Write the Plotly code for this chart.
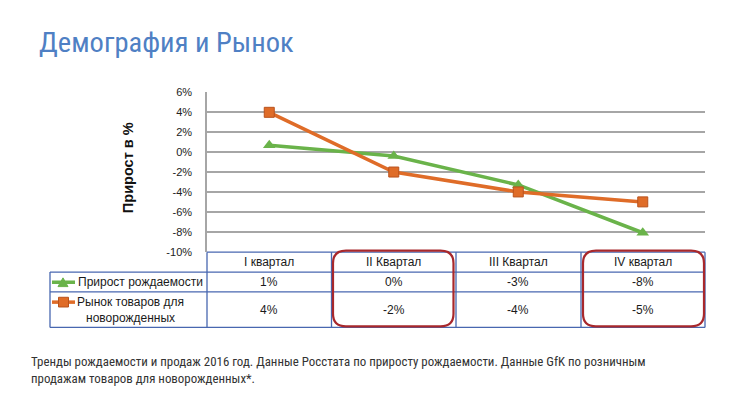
import plotly.graph_objects as go

W, H = 738, 413

# ---- data ----
quarters = ["I квартал", "II Квартал", "III Квартал", "IV квартал"]
series_names = ["Прирост рождаемости", "Рынок товаров для<br>новорожденных"]
birth_growth = [0.7, -0.4, -3.3, -8.1]
market_growth = [4.0, -2.0, -4.0, -5.0]
birth_labels = ["1%", "0%", "-3%", "-8%"]
market_labels = ["4%", "-2%", "-4%", "-5%"]
y_ticks = [6, 4, 2, 0, -2, -4, -6, -8, -10]

GREEN = "#6ab34a"
ORANGE = "#df6c28"
BLUE_T = "#4867b0"
RED_R = "#a8282c"
NARROW = "Roboto Condensed, Liberation Sans Narrow, Arial Narrow, Roboto"

def px(x):
    return x / W

def py(y):
    return 1 - y / H

PX0, PX1, PY0, PY1 = 207, 705, 89, 253

fig = go.Figure()
fig.add_trace(go.Scatter(
    x=list(range(4)), y=birth_growth, mode="lines+markers",
    line=dict(color=GREEN, width=3.5),
    marker=dict(symbol="triangle-up", size=11, color=GREEN),
    name="birth", showlegend=False, cliponaxis=False))
fig.add_trace(go.Scatter(
    x=list(range(4)), y=market_growth, mode="lines+markers",
    line=dict(color=ORANGE, width=3.5),
    marker=dict(symbol="square", size=10, color=ORANGE, line=dict(color="#b9521c", width=1)),
    name="market", showlegend=False, cliponaxis=False))

fig.update_layout(
    width=W, height=H, margin=dict(l=0, r=0, t=0, b=0),
    paper_bgcolor="white", plot_bgcolor="white",
    xaxis=dict(domain=[px(PX0), px(PX1)], range=[-0.5, 3.5], showticklabels=False,
               showgrid=False, zeroline=False, showline=False, fixedrange=True),
    yaxis=dict(domain=[py(PY1), py(PY0)], range=[-10, 6], tickvals=y_ticks,
               ticktext=[f"{v}%" for v in y_ticks], ticks="", ticklabelstandoff=11,
               tickfont=dict(family="Liberation Sans, Arial", size=11, color="#222"),
               showgrid=True, gridcolor="#a6a6a6", gridwidth=1.5, zeroline=False,
               showline=True, linecolor="#a6a6a6", linewidth=1.5, fixedrange=True),
)

shapes = []
def hline(x0, x1, y, color=BLUE_T, w=1.3):
    shapes.append(dict(type="line", xref="paper", yref="paper", x0=px(x0), x1=px(x1),
                       y0=py(y), y1=py(y), line=dict(color=color, width=w)))

def vline(x, y0, y1, color=BLUE_T, w=1.3):
    shapes.append(dict(type="line", xref="paper", yref="paper", x0=px(x), x1=px(x),
                       y0=py(y0), y1=py(y1), line=dict(color=color, width=w)))

hline(207, 705, 253.5)
hline(50, 705, 274)
hline(50, 705, 294.5)
hline(50, 705, 331)
vline(50, 274, 331)
for xv in [207, 331.5, 456, 581, 705]:
    vline(xv, 253.5, 331)

def rrect(x0, y0, x1, y1, r=13):
    pts = [
        ("M", x0 + r, y0), ("L", x1 - r, y0), ("Q", x1, y0, x1, y0 + r),
        ("L", x1, y1 - r), ("Q", x1, y1, x1 - r, y1), ("L", x0 + r, y1),
        ("Q", x0, y1, x0, y1 - r), ("L", x0, y0 + r), ("Q", x0, y0, x0 + r, y0)]
    s = ""
    for p in pts:
        coords = p[1:]
        vals = [f"{px(coords[i]):.5f},{py(coords[i+1]):.5f}" for i in range(0, len(coords), 2)]
        s += p[0] + " " + " ".join(vals) + " "
    return s + "Z"

for (a, b) in [(333, 453.5), (583, 704)]:
    shapes.append(dict(type="path", xref="paper", yref="paper", path=rrect(a, 252, b, 330),
                       line=dict(color=RED_R, width=2.2)))

hline(52, 75, 284.5, color=GREEN, w=3.5)
tri = f"M {px(58):.5f},{py(289):.5f} L {px(68):.5f},{py(289):.5f} L {px(63):.5f},{py(280):.5f} Z"
shapes.append(dict(type="path", xref="paper", yref="paper", path=tri, fillcolor=GREEN,
                   line=dict(color=GREEN, width=1)))
hline(52, 75, 305, color=ORANGE, w=3.5)
shapes.append(dict(type="rect", xref="paper", yref="paper", x0=px(58.5), x1=px(68.5),
                   y0=py(300), y1=py(310), fillcolor=ORANGE, line=dict(color="#b9521c", width=1)))

fig.update_layout(shapes=shapes)

ann = []
TF = dict(family="Liberation Sans, Arial", size=12, color="#1a1a1a")
for i, q in enumerate(quarters):
    ann.append(dict(x=i, xref="x", y=py(264), yref="paper", text=q, showarrow=False,
                    font=TF, xanchor="center", yanchor="middle"))
    ann.append(dict(x=i, xref="x", y=py(284.5), yref="paper", text=birth_labels[i], showarrow=False,
                    font=TF, xanchor="center", yanchor="middle"))
    ann.append(dict(x=i, xref="x", y=py(313), yref="paper", text=market_labels[i], showarrow=False,
                    font=TF, xanchor="center", yanchor="middle"))

ann.append(dict(x=px(76), y=py(284.5), xref="paper", yref="paper", text=series_names[0],
                showarrow=False, font=TF, xanchor="left", yanchor="middle"))
ann.append(dict(x=px(130), y=py(313), xref="paper", yref="paper", text=series_names[1],
                showarrow=False, font=TF, xanchor="center", yanchor="middle", align="center"))

ann.append(dict(x=px(128), y=py(167), xref="paper", yref="paper", text="<b>Прирост в %</b>",
                showarrow=False, textangle=-90,
                font=dict(family="Liberation Sans, Arial", size=14.5, color="#111"),
                xanchor="center", yanchor="middle"))

ann.append(dict(x=px(37), y=py(38), xref="paper", yref="paper", text="Демография и Рынок",
                showarrow=False, font=dict(family=NARROW, size=28.5, color="#4f80c4"),
                xanchor="left", yanchor="middle"))

ann.append(dict(x=px(29), y=py(375), xref="paper", yref="paper",
                text="Тренды рождаемости и продаж 2016 год. Данные Росстата по приросту рождаемости. Данные GfK по розничным<br>продажам товаров для новорожденных*.",
                showarrow=False, align="left",
                font=dict(family=NARROW, size=12.9, color="#333"),
                xanchor="left", yanchor="middle"))

fig.update_layout(annotations=ann)
fig.write_html("out.html")
